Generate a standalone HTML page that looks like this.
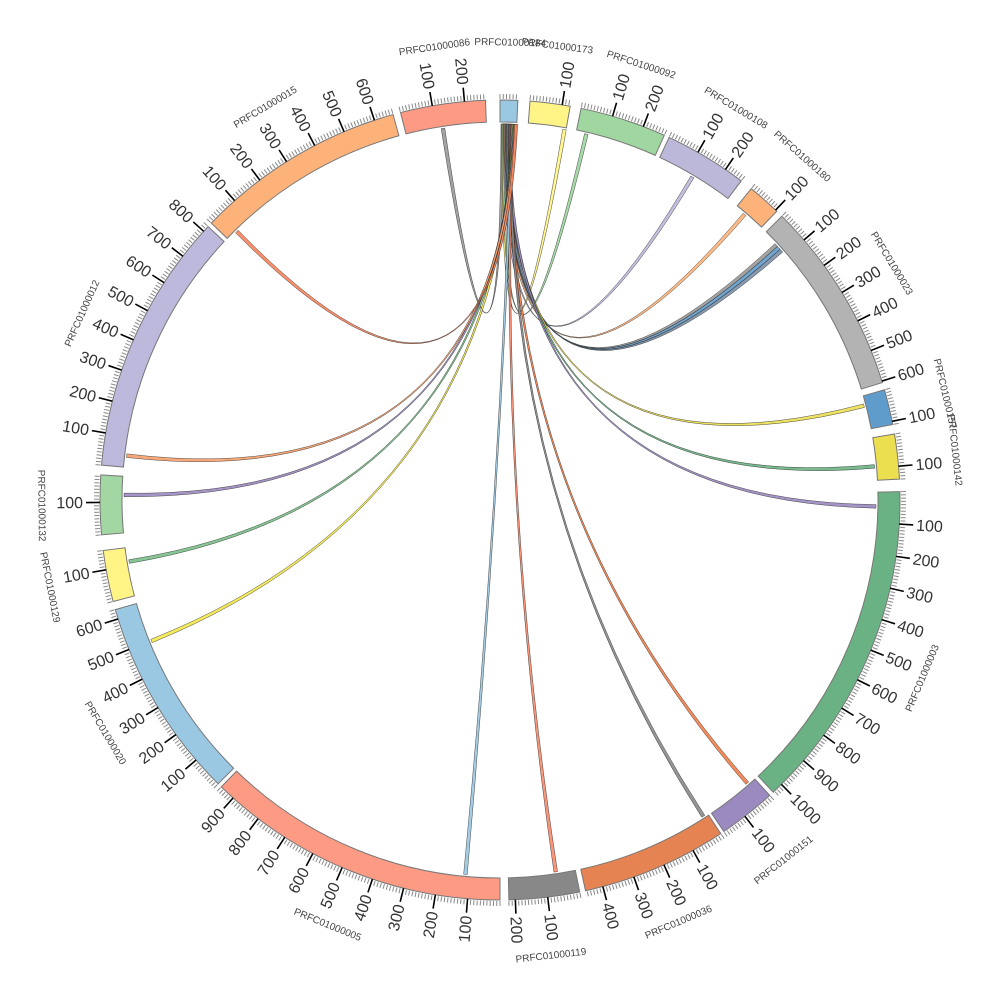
<!DOCTYPE html>
<html><head><meta charset="utf-8"><style>
html,body{margin:0;padding:0;background:#fff;}
svg{display:block;font-family:"Liberation Sans",sans-serif;}
</style></head><body>
<svg id="c" width="1000" height="1000" viewBox="0 0 1000 1000" xmlns="http://www.w3.org/2000/svg"></svg>
<script>
var S=0.0465,CX=500,CY=500,RI=378,RO=400,RL=376;
var segs=[
["PRFC01000086",345.6,265,"#fc9a84"],
["PRFC01000184",0,55,"#9ac8e2"],
["PRFC01000173",4.3,125,"#fff485"],
["PRFC01000092",11.7,270,"#a0d6a0"],
["PRFC01000108",25.0,260,"#bcb8da"],
["PRFC01000180",38.9,105,"#fdb27a"],
["PRFC01000023",44.8,605,"#b3b3b3"],
["PRFC01000157",74.0,110,"#5f9ccc"],
["PRFC01000142",80.5,140,"#ebdf50"],
["PRFC01000003",88.8,1035,"#6ab283"],
["PRFC01000151",137.6,180,"#9b8ac0"],
["PRFC01000036",146.5,455,"#e58452"],
["PRFC01000119",168.5,220,"#888888"],
["PRFC01000005",180,950,"#fc9a84"],
["PRFC01000020",224.8,630,"#9ac8e2"],
["PRFC01000129",255.3,160,"#fff485"],
["PRFC01000132",265.0,185,"#a2d6a2"],
["PRFC01000012",275,820,"#bcb9dc"],
["PRFC01000015",313.8,660,"#fdb27a"]];
function P(r,a){var t=a*Math.PI/180;return [CX+r*Math.sin(t),CY-r*Math.cos(t)];}
function f(p){return p[0].toFixed(2)+","+p[1].toFixed(2);}
var h="";
var links=[
[351.0,"#999999"],[9.6,"#fff485"],[13.0,"#9fd59f"],[30.5,"#bcb8da"],[40.3,"#fdb27a"],
[47.0,"#999999"],[47.6,"#5f9ccc"],[48.2,"#7a8fa8"],[75.2,"#ebdf50"],[84.6,"#6ab283"],[90.7,"#9b8ac0"],
[138.6,"#f07e4a"],[147.0,"#888888"],[171.2,"#f78b6d"],[185.0,"#9ac8e2"],
[247.7,"#f4e84a"],[260.3,"#7bc08a"],[270.5,"#9b8ac0"],[276.5,"#f7a06a"],[315.3,"#f7835a"]];
var n=links.length;
links.forEach(function(l,i){
 var s1=0.15+i*(2.2/n),s2=s1+0.45;
 var t1=l[0],t2=l[0]+0.55;
 var a=P(RL,s1),b=P(RL,s2),c=P(RL,t1),d=P(RL,t2);
 h+='<path d="M'+f(a)+' A'+RL+','+RL+' 0 0 1 '+f(b)+' Q500,500 '+f(c)+' A'+RL+','+RL+' 0 0 1 '+f(d)+' Q500,500 '+f(a)+'Z" fill="'+l[1]+'" fill-opacity="0.9" stroke="#222" stroke-width="0.5" stroke-opacity="0.8"/>';
});
segs.forEach(function(s){
 var a0=s[1],a1=s[1]+s[2]*S;
 var p1=P(RO,a0),p2=P(RO,a1),p3=P(RI,a1),p4=P(RI,a0);
 h+='<path d="M'+f(p1)+' A'+RO+','+RO+' 0 0 1 '+f(p2)+' L'+f(p3)+' A'+RI+','+RI+' 0 0 0 '+f(p4)+'Z" fill="'+s[3]+'" stroke="#777" stroke-width="1"/>';
 for(var u=0;u<=s[2];u+=10){
  var a=a0+u*S;
  if(u%100==0&&u>0){
   var q1=P(RO,a),q2=P(RO+14,a);
   h+='<line x1="'+q1[0]+'" y1="'+q1[1]+'" x2="'+q2[0]+'" y2="'+q2[1]+'" stroke="#000" stroke-width="1.6"/>';
   var flip=(a>180), rot=a-90, anc="start";
   if(flip){rot+=180;anc="end";}
   var q=P(RO+17,a);
   h+='<text x="0" y="0" transform="translate('+q[0]+','+q[1]+') rotate('+rot+')" text-anchor="'+anc+'" dy="5.5" font-size="16" fill="#333">'+u+'</text>';
  } else {
   var q1=P(RO+1,a),q2=P(RO+6,a);
   h+='<line x1="'+q1[0]+'" y1="'+q1[1]+'" x2="'+q2[0]+'" y2="'+q2[1]+'" stroke="#888" stroke-width="1"/>';
  }
 }
 var m=a0+s[2]*S/2, r=m;
 if(m>90&&m<=270) r=m-180;
 var q=P(458,m);
 h+='<text transform="translate('+q[0]+','+q[1]+') rotate('+r+')" text-anchor="middle" dy="3.5" font-size="10" fill="#444">'+s[0]+'</text>';
});
document.getElementById("c").innerHTML=h;
</script>
</body></html>
